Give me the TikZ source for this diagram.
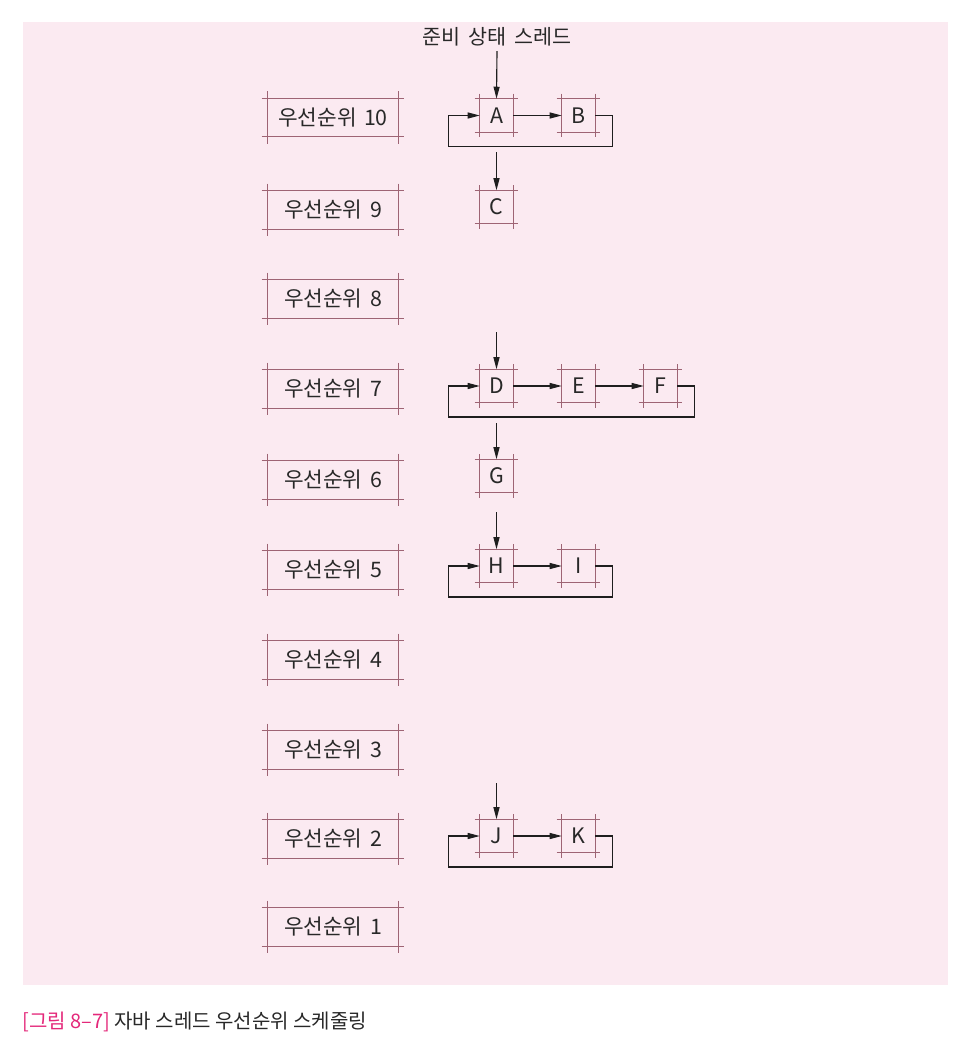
\documentclass[tikz,border=0pt]{standalone}
\usepackage{fontspec}
\setmainfont{Noto Sans CJK KR}
\usetikzlibrary{arrows.meta,calc}
\definecolor{bgpink}{RGB}{251,234,241}
\definecolor{boxc}{RGB}{158,100,116}
\definecolor{txt}{RGB}{40,40,40}
\definecolor{conn}{RGB}{30,30,30}
\definecolor{capmag}{RGB}{228,40,122}
\tikzset{
  prio/.style={draw=none, minimum width=97.5pt, minimum height=28.5pt, inner sep=0pt,
    font=\fontsize{16}{19}\selectfont, text=txt},
  thr/.style={draw=none, minimum width=24.75pt, minimum height=24.75pt, inner sep=0pt,
    font=\fontsize{16}{19}\selectfont, text=txt},
  boxline/.style={draw=boxc, line width=1pt},
  arr/.style={draw=conn, line width=0.85pt, -{Triangle[length=9pt,width=4.5pt]}},
}
\begin{document}
\begin{tikzpicture}[x=0.75pt,y=-0.75pt]
\useasboundingbox (0,0) rectangle (972,1042);
\fill[white] (0,0) rectangle (972,1042);
\fill[bgpink] (23,22) rectangle (948,985);

% priority boxes
\foreach \i/\yy in {10/117.5,9/210,8/299,7/389,6/480,5/570,4/660,3/750,2/839,1/927}{
  \node[prio] (p\i) at (333,\yy) {우선순위\hspace{0.35em}\i};
  \draw[boxline] ($(p\i.north west)+(-6,0)$) -- ($(p\i.north east)+(6,0)$);
  \draw[boxline] ($(p\i.south west)+(-6,0)$) -- ($(p\i.south east)+(6,0)$);
  \draw[boxline] ($(p\i.north west)+(0,-7)$) -- ($(p\i.south west)+(0,7)$);
  \draw[boxline] ($(p\i.north east)+(0,-7)$) -- ($(p\i.south east)+(0,7)$);
}

% thread boxes
\foreach \n/\xx/\yy in {A/496.5/115.5,B/578.5/115.5,C/496.5/207,D/496.5/386,E/578.5/386,F/660.5/386,G/496.5/476,H/496.5/566,I/578.5/566,J/496.5/836,K/578.5/836}{
  \node[thr] (\n) at (\xx,\yy) {\n};
  \draw[boxline] ($(\n.north west)+(-5,0)$) -- ($(\n.north east)+(5,0)$);
  \draw[boxline] ($(\n.south west)+(-5,0)$) -- ($(\n.south east)+(5,0)$);
  \draw[boxline] ($(\n.north west)+(0,-5)$) -- ($(\n.south west)+(0,5)$);
  \draw[boxline] ($(\n.north east)+(0,-5)$) -- ($(\n.south east)+(0,5)$);
}

% ready label
\node[font=\fontsize{15.5}{18}\selectfont, text=txt] (ready) at (497,37) {준비\hspace{0.4em}상태\hspace{0.4em}스레드};

% start coordinates
\coordinate (sC) at (496.5,152);
\coordinate (sD) at (496.5,332);
\coordinate (sG) at (496.5,423);
\coordinate (sH) at (496.5,512);
\coordinate (sJ) at (496.5,783);

% row 10
\draw[arr] (ready.south) -- (A.north);
\draw[arr] (A.east) -- (B.west);
\draw[arr] (B.east) -- ++(17,0) |- ($(A.west)+(-31,31)$) |- (A.west);
\draw[arr] (sC) -- (C.north);
% row 7
\draw[arr] (sD) -- (D.north);
\draw[arr] (D.east) -- (E.west);
\draw[arr] (E.east) -- (F.west);
\draw[arr] (F.east) -- ++(17,0) |- ($(D.west)+(-31,31)$) |- (D.west);
\draw[arr] (sG) -- (G.north);
% row 5
\draw[arr] (sH) -- (H.north);
\draw[arr] (H.east) -- (I.west);
\draw[arr] (I.east) -- ++(17,0) |- ($(H.west)+(-31,31)$) |- (H.west);
% row 2
\draw[arr] (sJ) -- (J.north);
\draw[arr] (J.east) -- (K.west);
\draw[arr] (K.east) -- ++(17,0) |- ($(J.west)+(-31,31)$) |- (J.west);

% caption
\node[anchor=west, inner sep=0pt, font=\fontsize{15}{18}\selectfont, text=txt] (cap) at (22,1022)
  {\textcolor{capmag}{[그림 8–7]} 자바 스레드 우선순위 스케줄링};
\end{tikzpicture}
\end{document}
